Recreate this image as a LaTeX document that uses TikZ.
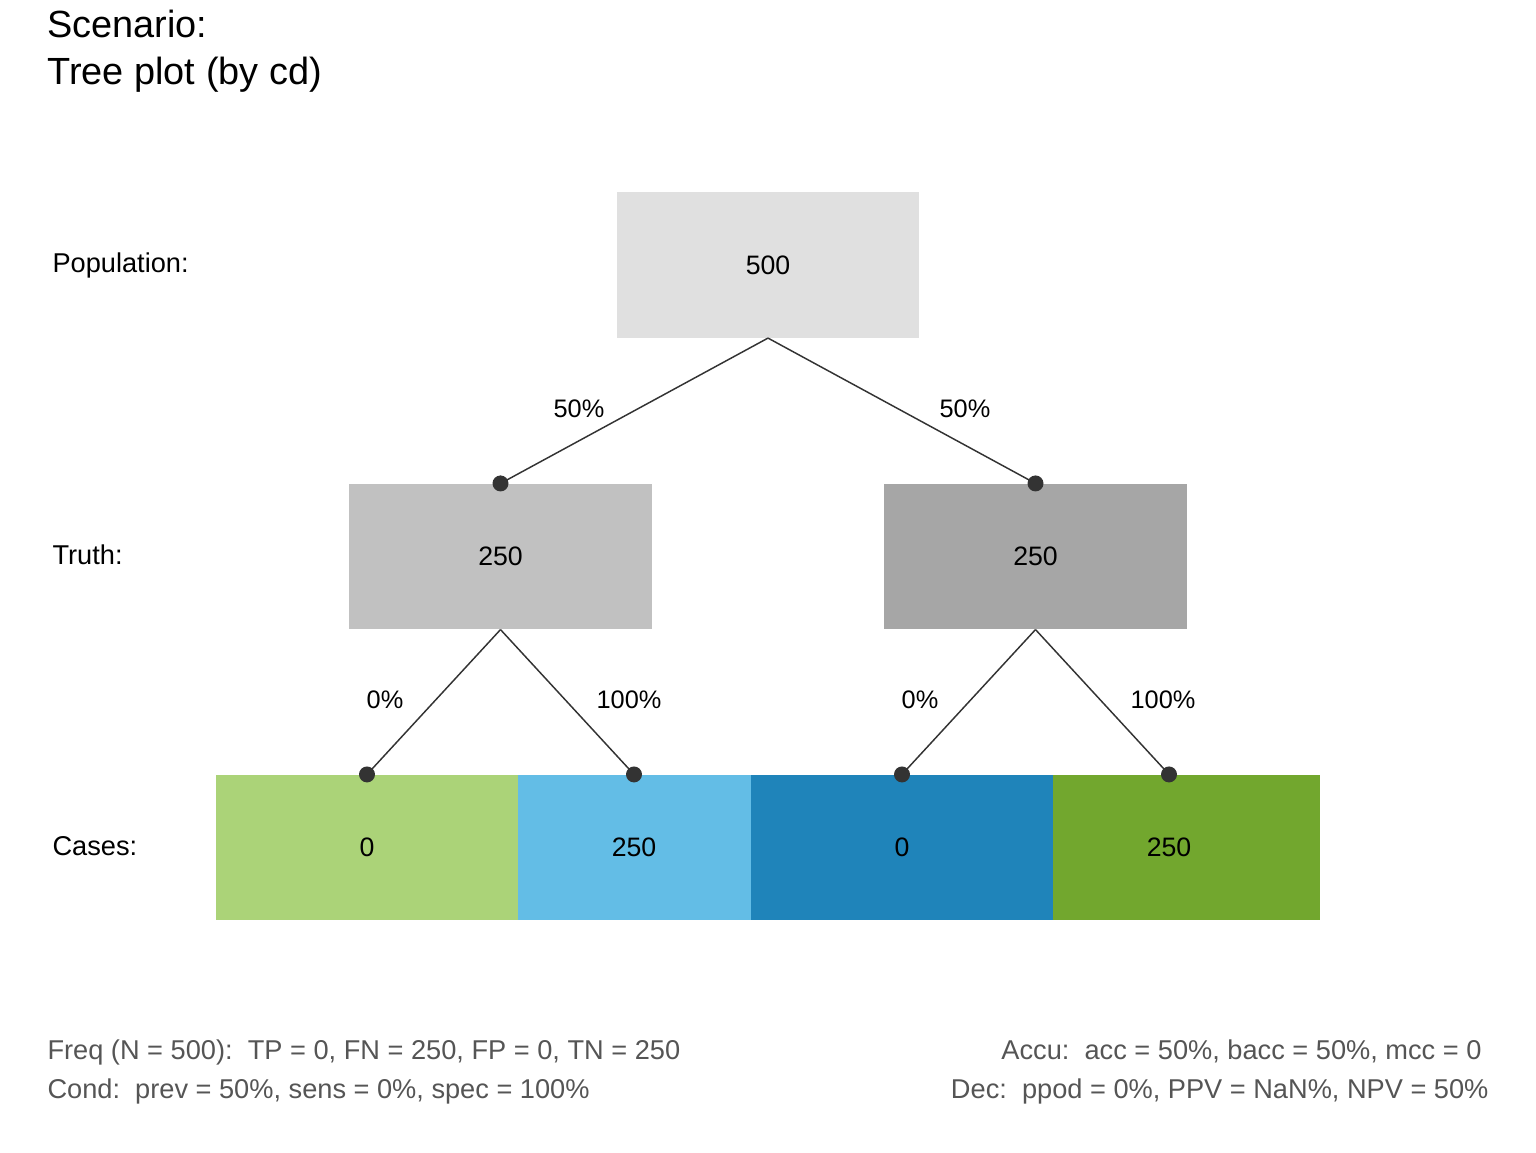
\documentclass[tikz,border=0pt]{standalone}
\usepackage{fontspec}
\setmainfont{Liberation Sans}
\definecolor{popcol}{HTML}{E0E0E0}
\definecolor{condtcol}{HTML}{C1C1C1}
\definecolor{condfcol}{HTML}{A6A6A6}
\definecolor{hicol}{HTML}{ABD378}
\definecolor{micol}{HTML}{63BDE6}
\definecolor{facol}{HTML}{1F84BA}
\definecolor{crcol}{HTML}{72A72E}
\definecolor{linecol}{HTML}{333333}
\definecolor{footcol}{HTML}{555555}
\begin{document}
\begin{tikzpicture}[x=0.375pt,y=-0.375pt,
  box/.style={minimum width=113.6pt, minimum height=54.4pt, inner sep=0pt, font=\fontsize{10}{12}\selectfont},
  edge/.style={draw=linecol, line width=0.55pt},
  dot/.style={circle, fill=linecol, inner sep=0pt, minimum size=6pt},
  numlab/.style={font=\fontsize{10}{12}\selectfont, inner sep=0pt},
  plab/.style={font=\fontsize{9.5}{11}\selectfont, inner sep=0pt},
  rowlab/.style={font=\fontsize{10.2}{12}\selectfont, inner sep=0pt, anchor=base west},
  foot/.style={font=\fontsize{10.2}{12}\selectfont, text=footcol, inner sep=0pt},
  ttl/.style={font=\fontsize{14.2}{17}\selectfont, inner sep=0pt, anchor=base west}]
\useasboundingbox (0,0) rectangle (1536,1152);

% title
\node[ttl] (t1) at (47,37) {Scenario:};
\node[ttl] (t2) at (47,84) {Tree plot (by cd)};

% row labels
\node[rowlab] (lpop) at (52,272) {Population:};
\node[rowlab] (ltru) at (52,564) {Truth:};
\node[rowlab] (lcas) at (52,855) {Cases:};

% boxes
\node[box, fill=popcol] (pop) at (768,265) {500};
\node[box, fill=condtcol] (ct) at (500.5,556.5) {250};
\node[box, fill=condfcol] (cf) at (1035.5,556.5) {250};

\node[box, fill=micol] (mi) at (634,847.5) {};
\node[box, fill=crcol] (cr) at (1169,847.5) {};
\node[box, fill=hicol] (hi) at (367,847.5) {0};
\node[box, fill=facol] (fa) at (902,847.5) {0};
\node[numlab] (mit) at (mi) {250};
\node[numlab] (crt) at (cr) {250};

% edges
\draw[edge] (pop.south) -- (ct.north);
\draw[edge] (pop.south) -- (cf.north);
\draw[edge] (ct.south) -- (hi.north);
\draw[edge] (ct.south) -- (mi.north);
\draw[edge] (cf.south) -- (fa.north);
\draw[edge] (cf.south) -- (cr.north);

\node[dot] (d1) at (ct.north) {};
\node[dot] (d2) at (cf.north) {};
\node[dot] (d3) at (hi.north) {};
\node[dot] (d4) at (mi.north) {};
\node[dot] (d5) at (fa.north) {};
\node[dot] (d6) at (cr.north) {};

% edge labels
\node[plab] (p1) at (579,409) {50\%};
\node[plab] (p2) at (965,409) {50\%};
\node[plab] (p3) at (385,700) {0\%};
\node[plab] (p4) at (629,700) {100\%};
\node[plab] (p5) at (920,700) {0\%};
\node[plab] (p6) at (1163,700) {100\%};

% footer
\node[foot, anchor=base west] (f1) at (47,1059) {Freq (N = 500):\ \ TP = 0, FN = 250, FP = 0, TN = 250};
\node[foot, anchor=base west] (f2) at (47,1098) {Cond:\ \ prev = 50\%, sens = 0\%, spec = 100\%};
\node[foot, anchor=base east] (f3) at (1482,1059) {Accu:\ \ acc = 50\%, bacc = 50\%, mcc = 0};
\node[foot, anchor=base east] (f4) at (1489,1098) {Dec:\ \ ppod = 0\%, PPV = NaN\%, NPV = 50\%};
\end{tikzpicture}
\end{document}
